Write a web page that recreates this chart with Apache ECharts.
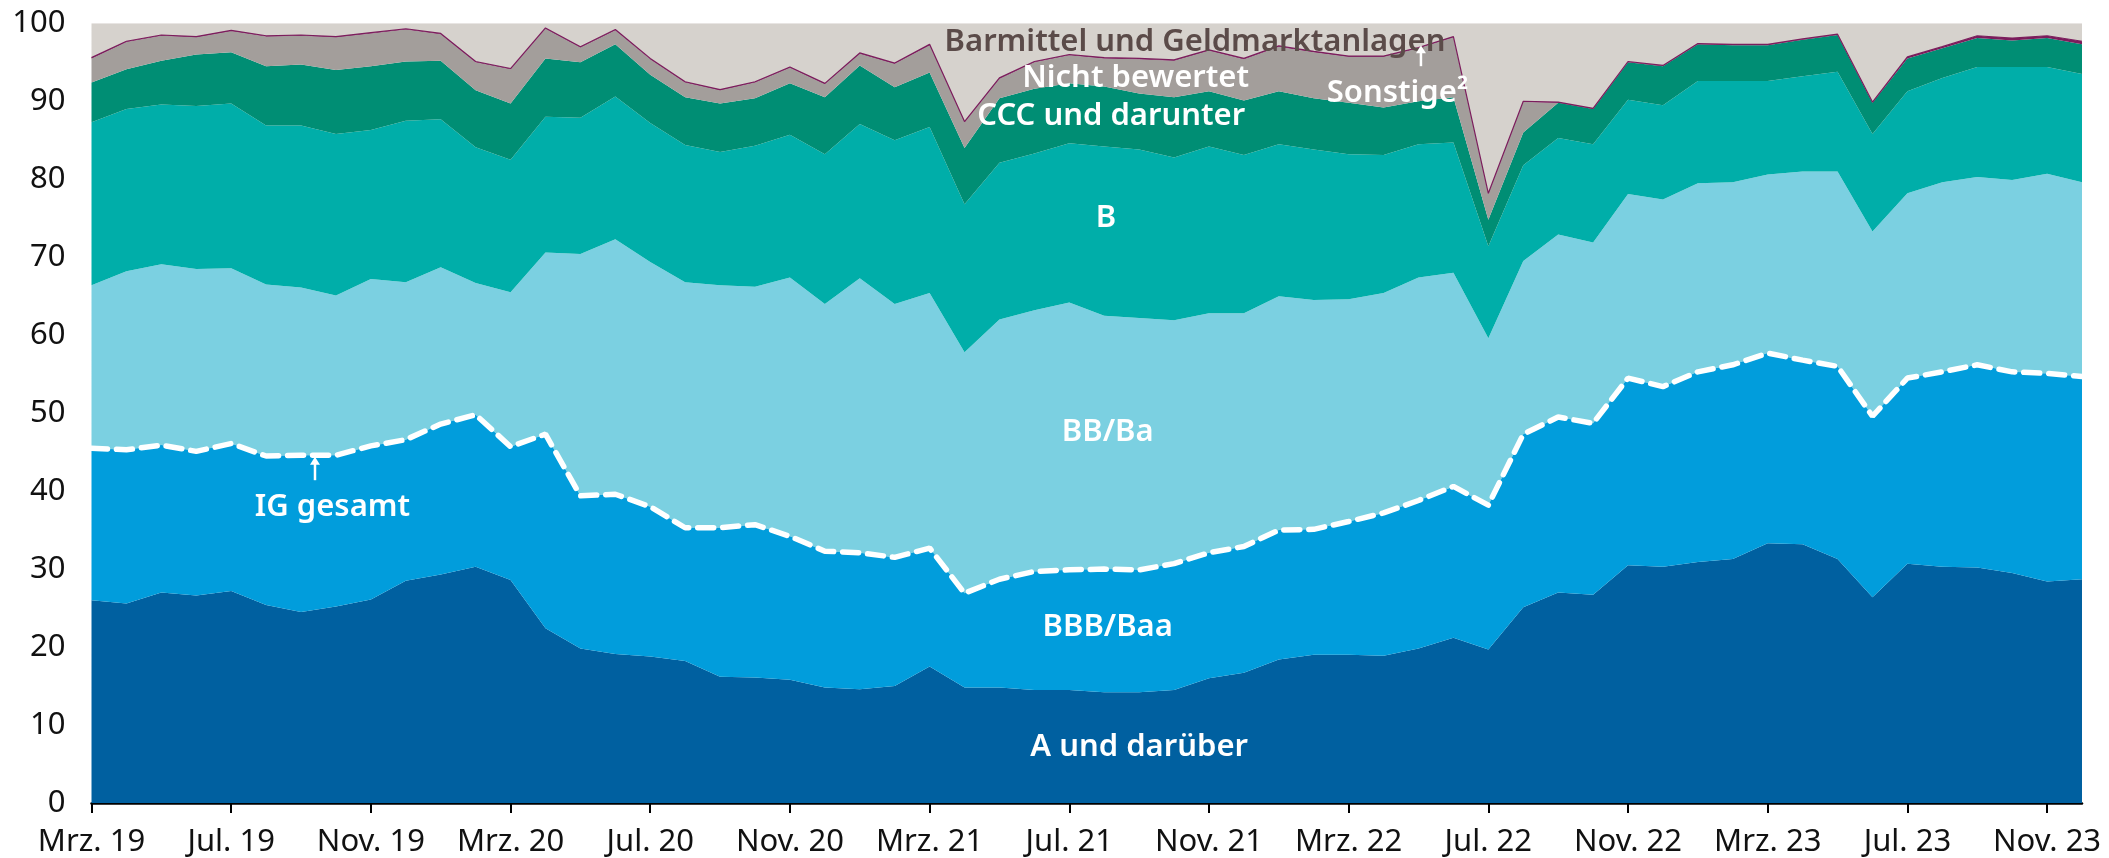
<!DOCTYPE html>
<html><head><meta charset="utf-8">
<script src="https://cdn.jsdelivr.net/npm/echarts@6/dist/echarts.min.js"></script>
<style>html,body{margin:0;padding:0;background:#fff}#c{width:2109px;height:858px}</style>
</head><body><div id="c"></div>
<script>
const months = ['Mrz. 19','Apr. 19','Mai 19','Jun. 19','Jul. 19','Aug. 19','Sep. 19','Okt. 19','Nov. 19','Dez. 19',
 'Jan. 20','Feb. 20','Mrz. 20','Apr. 20','Mai 20','Jun. 20','Jul. 20','Aug. 20','Sep. 20','Okt. 20','Nov. 20','Dez. 20',
 'Jan. 21','Feb. 21','Mrz. 21','Apr. 21','Mai 21','Jun. 21','Jul. 21','Aug. 21','Sep. 21','Okt. 21','Nov. 21','Dez. 21',
 'Jan. 22','Feb. 22','Mrz. 22','Apr. 22','Mai 22','Jun. 22','Jul. 22','Aug. 22','Sep. 22','Okt. 22','Nov. 22','Dez. 22',
 'Jan. 23','Feb. 23','Mrz. 23','Apr. 23','Mai 23','Jun. 23','Jul. 23','Aug. 23','Sep. 23','Okt. 23','Nov. 23','Dez. 23'];

const aUndDarueber = [26.0,25.6,27.0,26.6,27.2,25.4,24.5,25.2,26.1,28.5,29.3,30.3,28.6,22.4,19.8,19.1,18.8,18.2,16.2,16.1,15.8,14.8,14.6,15.0,17.5,14.8,14.8,14.5,14.5,14.2,14.2,14.5,16.0,16.7,18.4,19.0,19.0,18.9,19.8,21.2,19.7,25.1,27.0,26.7,30.5,30.3,30.9,31.3,33.3,33.2,31.3,26.4,30.7,30.3,30.2,29.5,28.4,28.7];
const bbbBaa = [19.5,19.7,18.9,18.5,18.9,19.1,20.1,19.4,19.7,18.1,19.3,19.5,17.1,24.9,19.6,20.5,19.2,17.1,19.1,19.6,18.4,17.5,17.5,16.5,15.2,12.1,13.9,15.2,15.4,15.8,15.7,16.2,16.1,16.2,16.6,16.1,17.1,18.3,19.0,19.4,18.5,22.2,22.5,22.0,24.0,23.1,24.4,24.9,24.4,23.6,24.7,23.2,23.8,25.0,26.0,25.8,26.7,26.0];
const bbBa = [20.9,22.9,23.2,23.4,22.5,22.0,21.5,20.5,21.4,20.2,20.1,16.9,19.8,23.3,31.0,32.7,31.4,31.5,31.1,30.5,33.2,31.7,35.2,32.5,32.7,30.9,33.3,33.5,34.3,32.5,32.3,31.2,30.7,29.9,30.0,29.4,28.5,28.2,28.6,27.4,21.4,22.2,23.4,23.2,23.6,24.0,24.2,23.4,22.9,24.2,25.0,23.7,23.7,24.3,24.1,24.6,25.6,24.9];
const bRating = [20.9,20.8,20.5,20.9,21.1,20.4,20.8,20.7,19.1,20.7,19.0,17.4,17.0,17.4,17.5,18.3,17.8,17.6,17.1,18.1,18.3,19.2,19.8,21.0,21.3,19.0,20.1,20.1,20.4,21.7,21.6,20.9,21.4,20.3,19.5,19.3,18.6,17.7,17.1,16.7,11.8,12.3,12.4,12.6,12.1,12.1,13.1,13.0,12.0,12.2,12.8,12.5,13.1,13.4,14.1,14.5,13.7,13.9];
const cccUndDarunter = [5.1,5.1,5.6,6.6,6.6,7.6,7.8,8.2,8.2,7.6,7.5,7.3,7.2,7.5,7.1,6.7,6.2,6.1,6.2,6.1,6.6,7.3,7.5,6.8,7.0,7.2,8.3,8.3,7.7,7.7,7.2,7.7,7.1,7.0,6.8,6.6,6.6,6.1,5.5,5.8,3.4,4.2,4.5,4.5,4.8,5.0,4.7,4.6,4.6,4.7,4.7,4.0,4.2,3.8,3.7,3.4,3.7,3.8];
const nichtBewertet = [3.1,3.5,3.2,2.2,2.7,3.8,3.7,4.2,4.2,4.1,3.4,3.6,4.4,3.8,1.9,1.8,2.0,1.9,1.7,2.0,2.0,1.7,1.5,3.0,3.5,3.3,2.5,3.4,3.6,3.6,4.4,4.7,5.2,5.3,5.7,5.9,5.9,6.5,6.8,7.7,3.3,3.9,0,0,0,0,0,0,0,0,0,0,0,0,0,0,0,0];
const sonstige = [0.1,0.1,0.1,0.1,0.1,0.1,0.1,0.1,0.1,0.1,0.1,0.1,0.1,0.1,0.1,0.1,0.1,0.1,0.1,0.1,0.1,0.1,0.1,0.1,0.1,0.1,0.1,0.1,0.1,0.1,0.1,0.1,0.1,0.1,0.1,0.1,0.1,0.1,0.1,0.1,0.1,0.1,0.1,0.1,0.1,0.1,0.1,0.1,0.1,0.1,0.1,0.1,0.2,0.2,0.3,0.3,0.3,0.4];
const barmittel = [4.4,2.3,1.5,1.7,0.9,1.6,1.5,1.7,1.2,0.7,1.3,4.9,5.8,0.6,3.0,0.8,4.5,7.5,8.5,7.5,5.6,7.7,3.8,5.1,2.7,12.6,7.0,4.9,4.0,4.4,4.5,4.7,3.4,4.5,2.9,3.6,4.2,4.2,3.1,1.7,21.8,10.0,10.1,10.9,4.9,5.4,2.6,2.7,2.7,2.0,1.4,10.1,4.3,3.0,1.6,1.9,1.6,2.3];
const yTicks = [0,10,20,30,40,50,60,70,80,90,100];

const FONT = '"Noto Sans", "DejaVu Sans", sans-serif';
const chart = echarts.init(document.getElementById('c'), null, {renderer: 'canvas'});

function area(name, data, color, opts) {
  return Object.assign({
    name: name, type: 'line', stack: 'total', data: data,
    showSymbol: false, symbol: 'none', smooth: false,
    lineStyle: {width: 0, color: color},
    areaStyle: {color: color, opacity: 1},
    emphasis: {disabled: true}, z: 2
  }, opts || {});
}

chart.setOption({
  animation: false,
  grid: {left: 91.5, right: 27, top: 23.3, bottom: 54, containLabel: false},
  xAxis: {
    type: 'category', data: months, boundaryGap: false,
    axisLine: {lineStyle: {color: '#000', width: 2.5}},
    axisTick: {interval: 3, length: 10, lineStyle: {color: '#000', width: 2}},
    axisLabel: {interval: 3, color: '#111', fontSize: 31, fontFamily: FONT, margin: 24},
    splitLine: {show: false}
  },
  yAxis: {
    type: 'value', min: yTicks[0], max: yTicks[yTicks.length - 1], interval: 10,
    axisLine: {show: false}, axisTick: {show: false}, splitLine: {show: false},
    axisLabel: {color: '#111', fontSize: 31, fontFamily: FONT, margin: 26}
  },
  series: [
    area('A und darüber', aUndDarueber, '#0060a0'),
    area('BBB/Baa', bbbBaa, '#019ddc', {lineStyle: {width: 5.5, color: '#ffffff', type: [16, 9], cap: 'round'}, z: 4}),
    area('BB/Ba', bbBa, '#7bd0e1'),
    area('B', bRating, '#00aea9'),
    area('CCC und darunter', cccUndDarunter, '#008e74'),
    area('Nicht bewertet', nichtBewertet, '#a39e9b'),
    area('Sonstige²', sonstige, '#7b1d5c', {lineStyle: {width: 1.2, color: '#7b1d5c'}}),
    area('Barmittel und Geldmarktanlagen', barmittel, '#d6d2cd')
  ]
});

// Annotations positioned in data space
const annotations = [
  {text: 'Barmittel und Geldmarktanlagen', idx: 31.6, val: 97.6, color: '#5b4b49'},
  {text: 'Nicht bewertet', idx: 29.9, val: 93.0, color: '#ffffff'},
  {text: 'CCC und darunter', idx: 29.2, val: 88.1, color: '#ffffff'},
  {text: 'Sonstige²', idx: 37.4, val: 91.0, color: '#ffffff'},
  {text: 'B', idx: 29.05, val: 75.0, color: '#ffffff'},
  {text: 'BB/Ba', idx: 29.1, val: 47.6, color: '#ffffff'},
  {text: 'BBB/Baa', idx: 29.1, val: 22.5, color: '#ffffff'},
  {text: 'A und darüber', idx: 30.0, val: 7.2, color: '#ffffff'},
  {text: 'IG gesamt', idx: 6.9, val: 37.9, color: '#ffffff'}
];
const arrows = [
  {idx: 38.07, from: 94.5, to: 97.2},
  {idx: 6.4, from: 41.4, to: 44.4}
];

const p0 = chart.convertToPixel({gridIndex: 0}, [0, 0]);
const p1 = chart.convertToPixel({gridIndex: 0}, [months.length - 1, 100]);
function px(idx, val) {
  return [p0[0] + (p1[0] - p0[0]) * idx / (months.length - 1),
          p0[1] + (p1[1] - p0[1]) * val / 100];
}
const elements = [];
annotations.forEach(a => {
  const p = px(a.idx, a.val);
  elements.push({type: 'text', x: p[0], y: p[1], z: 100,
    style: {text: a.text, fill: a.color, font: '600 31px ' + FONT, align: 'center', verticalAlign: 'middle'}});
});
arrows.forEach(a => {
  const s = px(a.idx, a.from), e = px(a.idx, a.to);
  elements.push({type: 'line', z: 100, shape: {x1: s[0], y1: s[1], x2: e[0], y2: e[1] + 4},
    style: {stroke: '#fff', lineWidth: 2.5}});
  elements.push({type: 'polygon', z: 100, shape: {points: [[e[0], e[1]], [e[0] - 5, e[1] + 8], [e[0] + 5, e[1] + 8]]},
    style: {fill: '#fff'}});
});
chart.setOption({graphic: {elements: elements}});
</script>
</body></html>
